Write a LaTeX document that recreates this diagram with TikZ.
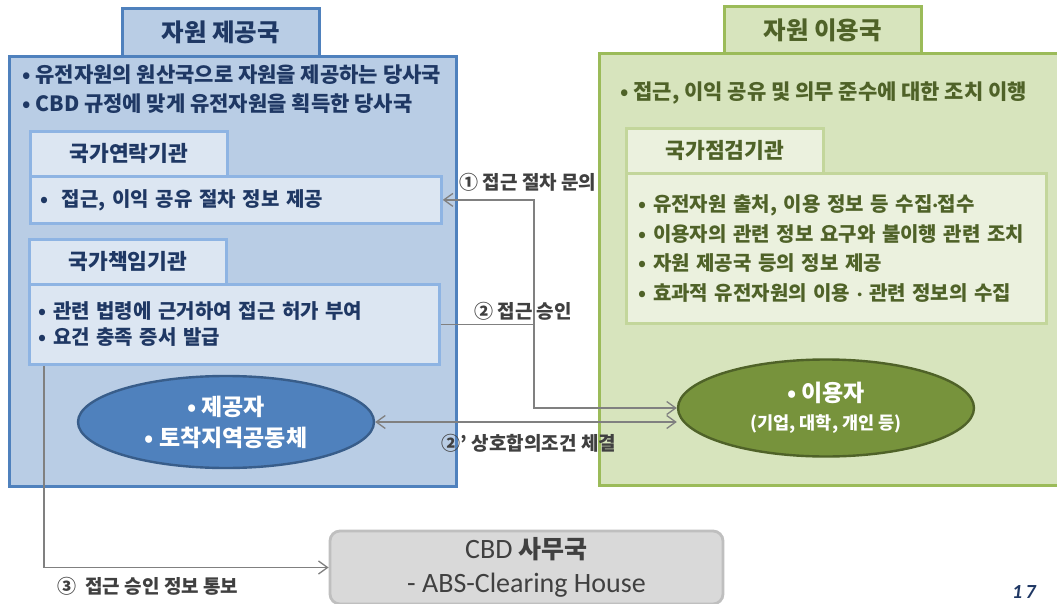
\documentclass[tikz,border=0pt]{standalone}
\usepackage{fontspec}
\setmainfont{Noto Sans CJK KR}
\newfontfamily\calibri{Carlito}
\usetikzlibrary{arrows.meta,positioning,calc,shapes.geometric}
\definecolor{bluebg}{HTML}{B9CDE5}
\definecolor{blueline}{HTML}{4F81BD}
\definecolor{bluelight}{HTML}{DCE6F2}
\definecolor{bluesoft}{HTML}{8EB4E3}
\definecolor{bluetxt}{HTML}{1F3864}
\definecolor{bluedeep}{HTML}{385D8A}
\definecolor{greenbg}{HTML}{D7E4BD}
\definecolor{greenline}{HTML}{9BBB59}
\definecolor{greenlight}{HTML}{EBF1DE}
\definecolor{greensoft}{HTML}{C3D69B}
\definecolor{greentxt}{HTML}{4F6228}
\definecolor{greenfill}{HTML}{77933C}
\definecolor{cbdfill}{HTML}{D9D9D9}
\definecolor{cbdline}{HTML}{BFBFBF}
\definecolor{conngray}{HTML}{808080}
\definecolor{lbltxt}{HTML}{404040}
\newcommand{\mdot}{{\calibri·}}
\tikzset{
  >={Straight Barb[length=9pt,width=13pt]},
  conn/.style={draw=conngray,line width=1.3pt},
  % 바깥 틀과 제목 탭
  frame/.style={line width=2.8pt,inner sep=0pt,anchor=north west},
  blueframe/.style={frame,draw=blueline,fill=bluebg},
  bluetab/.style={frame,draw=bluesoft,fill=bluelight},
  greenframe/.style={frame,draw=greenline,fill=greenbg},
  greentab/.style={frame,draw=greensoft,fill=greenlight},
  % 글자
  head/.style={font=\bfseries\fontsize{24.5}{24.5}\selectfont},
  tabtxt/.style={font=\bfseries\fontsize{21.5}{21.5}\selectfont},
  body/.style={font=\bfseries\fontsize{20}{29}\selectfont,align=left},
  note/.style={font=\bfseries\fontsize{21}{29}\selectfont,align=left,anchor=west,inner sep=0pt},
  lbl/.style={text=lbltxt,font=\bfseries\fontsize{19}{19}\selectfont,inner sep=1pt},
  party/.style={ellipse,line width=2.4pt,inner sep=0pt,align=center,text=white}
}
\begin{document}
\begin{tikzpicture}[x=1pt,y=-1pt]
  \useasboundingbox[fill=white] (0,0) rectangle (1057,604);

  %--- 자원 제공국
  \node[blueframe,minimum width=447,minimum height=430] (provframe) at (8,55) {};
  \node[blueframe,minimum width=197,minimum height=48,head,text=bluetxt] (provtitle) at (121,7) {자원 제공국};
  \node[note,text=bluetxt] (provnote) at (22,89.5)
    {• 유전자원의 원산국으로 자원을 제공하는 당사국\\• CBD 규정에 맞게 유전자원을 획득한 당사국};

  \node[bluetab,minimum width=197,minimum height=45,tabtxt,text=bluetxt] (contacttab) at (29,130) {국가연락기관};
  \node[bluetab,minimum width=411,minimum height=47,body,text=bluetxt,text width=391,inner xsep=10pt] (contactbox) at (29,175)
    {•\ \ 접근, 이익 공유 절차 정보 제공};

  \node[bluetab,minimum width=197,minimum height=45,tabtxt,text=bluetxt] (permittab) at (28,238) {국가책임기관};
  \node[bluetab,minimum width=410,minimum height=80,body,font=\bfseries\fontsize{20}{26}\selectfont,text=bluetxt,text width=392,inner xsep=9pt] (permitbox) at (28,283)
    {• 관련 법령에 근거하여 접근 허가 부여\\• 요건 충족 증서 발급};

  \node[party,draw=bluedeep,fill=blueline,minimum width=296,minimum height=92,font=\bfseries\fontsize{23}{31}\selectfont] (provider) at (226,422)
    {• 제공자\\• 토착지역공동체};

  %--- 자원 이용국
  \node[greenframe,minimum width=467,minimum height=432] (userframe) at (598,52) {};
  \node[greenframe,minimum width=197,minimum height=47,head,text=greentxt] (usertitle) at (723,5) {자원 이용국};
  \node[note,text=greentxt] (usernote) at (620,93)
    {• 접근, 이익 공유 및 의무 준수에 대한 조치 이행};

  \node[greentab,minimum width=197,minimum height=45,tabtxt,text=greentxt] (checktab) at (625,127) {국가점검기관};
  \node[greentab,minimum width=420,minimum height=150,body,font=\bfseries\fontsize{20}{29.5}\selectfont,text=greentxt,text width=396,inner xsep=12pt] (checkbox) at (625,172)
    {• 유전자원 출처, 이용 정보 등 수집\mdot 접수\\• 이용자의 관련 정보 요구와 불이행 관련 조치\\• 자원 제공국 등의 정보 제공\\• 효과적 유전자원의 이용 \mdot{} 관련 정보의 수집};

  \node[party,draw=greentxt,fill=greenfill,minimum width=296,minimum height=97,font=\bfseries\fontsize{23}{28}\selectfont] (user) at (826,408)
    {• 이용자\\{\fontsize{17.5}{17.5}\selectfont (기업, 대학, 개인 등)}};

  %--- CBD 사무국
  \node[draw=cbdline,fill=cbdfill,line width=2.8pt,rounded corners=10pt,minimum width=393,minimum height=73,inner sep=0pt,
        align=center,text=lbltxt,font=\calibri\fontsize{28}{34}\selectfont] (cbd) at (526.5,567.5)
    {CBD \textrm{\bfseries\fontsize{25}{34}\selectfont 사무국}\\- ABS-Clearing House};

  %--- 연결선
  \coordinate (bus) at (534,408);
  \draw[conn,->] (permitbox.east) -| (bus) -- (user.west);
  \draw[conn,->] (bus) |- (contactbox.east);
  \draw[conn,<->] (provider.east) -- (provider.east -| user.west);
  \draw[conn,->] ([xshift=16pt]permitbox.south west) |- (cbd.west);

  \node[lbl] (askl) at (528,182) {① 접근 절차 문의};
  \node[lbl] (okl) at (523,311) {② 접근 승인};
  \node[lbl] (matl) at (529,443) {②’\ 상호합의조건 체결};
  \node[lbl] (notel) at (148,586) {③\ \ 접근 승인 정보 통보};

  \node[text=bluetxt,font=\calibri\bfseries\itshape\fontsize{20}{20}\selectfont] (pagenum) at (1024,592) {1\,7};
\end{tikzpicture}
\end{document}
